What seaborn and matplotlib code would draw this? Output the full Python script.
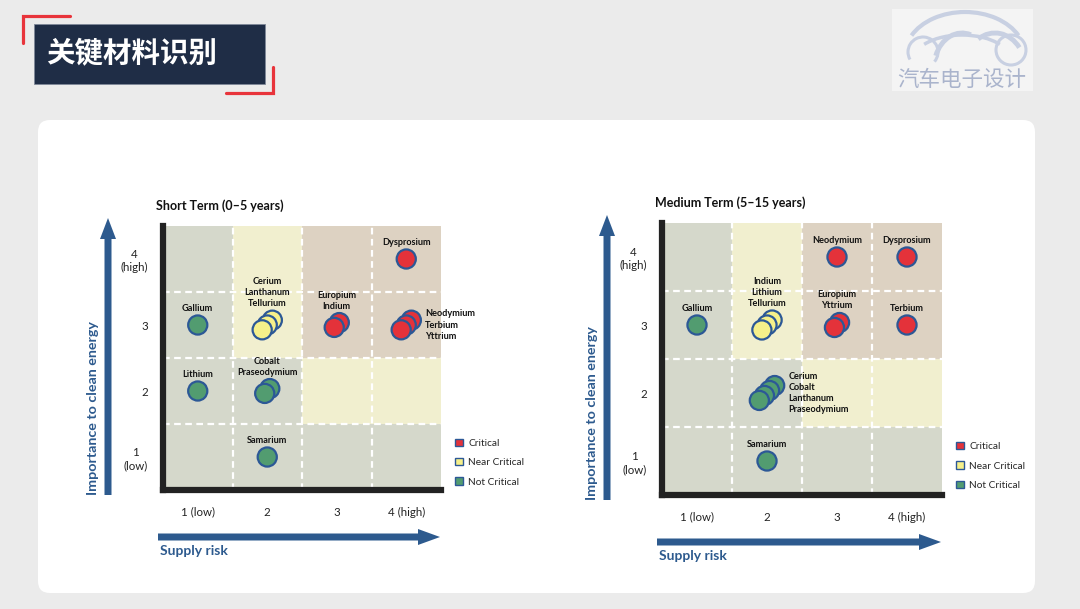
import numpy as np
import pandas as pd
import matplotlib.pyplot as plt
import seaborn as sns
from matplotlib.patches import Rectangle, FancyBboxPatch, FancyArrow, Patch, Arc
from matplotlib.colors import ListedColormap

sns.set_theme(style='white')
plt.rcParams['font.family'] = ['Lato', 'Noto Sans CJK SC', 'DejaVu Sans']

# ---- data ----
risk_labels = ['1 (low)', '2', '3', '4 (high)']
importance_labels = ['1\n(low)', '2', '3', '4\n(high)']
status_names = ['Critical', 'Near Critical', 'Not Critical']
status_colors = ['#e4323a', '#f6f08a', '#529c70']

# zone per cell, rows = importance 1..4, cols = supply risk 1..4
zone_grid = [[0, 0, 0, 0],
             [0, 0, 1, 1],
             [0, 1, 2, 2],
             [0, 1, 2, 2]]
zone_colors = ['#d5d8cb', '#f1efcf', '#ddd2c2']

short_elements = ['Gallium', 'Cerium\nLanthanum\nTellurium', 'Europium\nIndium',
                  'Neodymium\nTerbium\nYttrium', 'Dysprosium', 'Lithium',
                  'Cobalt\nPraseodymium', 'Samarium']
short_risk = [1, 2, 3, 4, 4, 1, 2, 2]
short_importance = [3, 3, 3, 3, 4, 2, 2, 1]
short_status = ['Not Critical', 'Near Critical', 'Critical', 'Critical', 'Critical',
                'Not Critical', 'Not Critical', 'Not Critical']
short_side = ['top', 'top', 'top', 'right', 'top', 'top', 'top', 'top']

medium_elements = ['Gallium', 'Indium\nLithium\nTellurium', 'Neodymium', 'Dysprosium',
                   'Europium\nYttrium', 'Terbium',
                   'Cerium\nCobalt\nLanthanum\nPraseodymium', 'Samarium']
medium_risk = [1, 2, 3, 4, 3, 4, 2, 2]
medium_importance = [3, 3, 4, 4, 3, 3, 2, 1]
medium_status = ['Not Critical', 'Near Critical', 'Critical', 'Critical', 'Critical',
                 'Critical', 'Not Critical', 'Not Critical']
medium_side = ['top', 'top', 'top', 'top', 'top', 'top', 'right', 'top']

blue = '#2d5a8e'
edge_blue = '#2c5896'

fig = plt.figure(figsize=(10.8, 6.09), dpi=100, facecolor='#ebebeb')
bg = fig.add_axes([0, 0, 1, 1])
bg.set_xlim(0, 1080)
bg.set_ylim(609, 0)
bg.axis('off')

# header
bg.add_patch(Rectangle((34, 24), 231, 60, fc='#1f2d46', ec='#7f8899', lw=0.6))
bg.text(46, 54, '关键材料识别', color='white', fontsize=20.5, weight='bold',
        family=['Noto Sans CJK SC'], va='center', ha='left')
bg.plot([23, 23, 70], [43, 16, 16], color='#e8343b', lw=2.3, solid_joinstyle='miter')
bg.plot([226, 272.5, 272.5], [93, 93, 67], color='#e8343b', lw=2.3, solid_joinstyle='miter')

# logo
logo_c = '#c8d0e2'
bg.add_patch(Rectangle((892, 9), 141, 82, fc='#f4f4f4', ec='none'))
bg.add_patch(Arc((923, 52), 30, 30, theta1=150, theta2=400, ec=logo_c, lw=2.2))
bg.add_patch(Arc((1011, 50), 30, 30, theta1=0, theta2=360, ec=logo_c, lw=2.2))
bg.add_patch(Arc((965, 55), 120, 86, theta1=200, theta2=340, ec=logo_c, lw=3))
bg.add_patch(Arc((962, 62), 100, 54, theta1=205, theta2=335, ec=logo_c, lw=2.5))
bg.add_patch(Arc((962, 68), 56, 70, theta1=205, theta2=285, ec=logo_c, lw=3.5))
bg.add_patch(Arc((995, 68), 60, 70, theta1=240, theta2=320, ec=logo_c, lw=3.5))
bg.text(962, 80, '汽车电子设计', fontsize=15.5, color='#aab4cc', ha='center', va='center',
        family=['Noto Sans CJK SC'])

# white card
bg.add_patch(FancyBboxPatch((38, 120), 997, 473, boxstyle='round,pad=0,rounding_size=12',
                            fc='white', ec='none'))


def draw_panel(L, T, R, B, title, elements, risk, importance, status, side):
    ax = fig.add_axes([L / 1080, 1 - B / 609, (R - L) / 1080, (B - T) / 609])
    edges = np.arange(0.5, 5, 1)
    ax.pcolormesh(edges, edges, np.array(zone_grid), cmap=ListedColormap(zone_colors),
                  vmin=-0.5, vmax=2.5, zorder=0)
    for v in [1.5, 2.5, 3.5]:
        ax.axvline(v, color='white', lw=1.6, ls=(0, (3, 2)), zorder=1)
        ax.axhline(v, color='white', lw=1.6, ls=(0, (3, 2)), zorder=1)

    # expand groups into stacked circles
    step = 0.073
    rows = []
    for name, x, y, st in zip(elements, risk, importance, status):
        n = len(name.split('\n'))
        for k in range(n):
            off = (n - 1) / 2 - k
            rows.append({'risk': x + off * step, 'importance': y + off * step, 'status': st})
    df = pd.DataFrame(rows)
    sns.scatterplot(data=df, x='risk', y='importance', hue='status', hue_order=status_names,
                    palette=status_colors, s=190, edgecolor=edge_blue, linewidth=1.6,
                    legend=False, ax=ax, zorder=4)

    for name, x, y, sd in zip(elements, risk, importance, side):
        n = len(name.split('\n'))
        top = (n - 1) / 2 * step
        if sd == 'top':
            ax.text(x, y + top + 0.18, name, ha='center', va='bottom', fontsize=6.6,
                    weight='bold', color='#111', linespacing=1.3, zorder=5)
        else:
            ax.text(x + top + 0.2, y, name, ha='left', va='center', fontsize=6.6,
                    weight='bold', color='#111', linespacing=1.3, zorder=5, clip_on=False)

    ax.set_xlim(0.5, 4.5)
    ax.set_ylim(0.5, 4.5)
    ax.set_facecolor('none')
    ax.set_xticks([1, 2, 3, 4])
    ax.set_xticklabels(risk_labels)
    ax.set_yticks([1, 2, 3, 4])
    ax.set_yticklabels(importance_labels)
    for lbl in ax.get_yticklabels():
        lbl.set_multialignment('center')
    ax.tick_params(length=0, labelsize=8.3, labelcolor='#222')
    ax.tick_params(axis='x', pad=12)
    ax.tick_params(axis='y', pad=11)
    ax.set_xlabel('')
    ax.set_ylabel('')
    for s in ['top', 'right']:
        ax.spines[s].set_visible(False)
    for s in ['left', 'bottom']:
        ax.spines[s].set_linewidth(4.5)
        ax.spines[s].set_color('#222')
        ax.spines[s].set_capstyle('projecting')

    handles = [Patch(facecolor=c, edgecolor=edge_blue, linewidth=1.0, label=n)
               for n, c in zip(status_names, status_colors)]
    ax.legend(handles=handles, loc='upper left', bbox_to_anchor=(1.05, 0.195), frameon=False,
              fontsize=7.3, handlelength=0.75, handleheight=0.75, handletextpad=0.55,
              labelspacing=1.0, borderaxespad=0, borderpad=0)

    # decorations in pixel space
    bg.text(L - 7, T - 20, title, ha='left', va='center', fontsize=9, weight='bold', color='#111')
    bg.text(L - 70, B - 82, 'Importance to clean energy', rotation=90, ha='center', va='center',
            fontsize=10.3, weight='bold', color=blue)
    bg.add_patch(FancyArrow(L - 55, B + 5, 0, -(B - T + 13), width=7, head_width=16,
                            head_length=21, length_includes_head=True, color=blue, lw=0))
    bg.add_patch(FancyArrow(L - 5, B + 47, R - L + 4, 0, width=7, head_width=16,
                            head_length=22, length_includes_head=True, color=blue, lw=0))
    bg.text(L - 3, B + 61, 'Supply risk', ha='left', va='center', fontsize=10,
            weight='bold', color=blue)
    return ax


draw_panel(163, 226, 441, 490, 'Short Term (0–5 years)', short_elements, short_risk,
           short_importance, short_status, short_side)
draw_panel(662, 223, 942, 495, 'Medium Term (5–15 years)', medium_elements, medium_risk,
           medium_importance, medium_status, medium_side)

fig.savefig('out.png', dpi=100, facecolor=fig.get_facecolor())
